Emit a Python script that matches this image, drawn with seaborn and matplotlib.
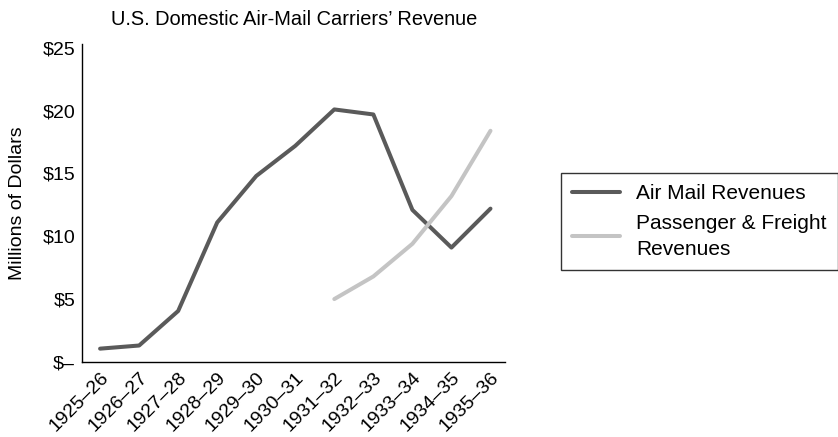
import matplotlib
matplotlib.use("Agg")
import matplotlib.pyplot as plt
import seaborn as sns
import pandas as pd
import numpy as np

years = ["1925–26", "1926–27", "1927–28", "1928–29", "1929–30", "1930–31",
         "1931–32", "1932–33", "1933–34", "1934–35", "1935–36"]
air_mail = [1.05, 1.3, 4.05, 11.1, 14.8, 17.2, 20.1, 19.7, 12.1, 9.1, 12.2]
passenger = [np.nan, np.nan, np.nan, np.nan, np.nan, np.nan, 5.0, 6.8, 9.4, 13.2, 18.4]
yticks = [0, 5, 10, 15, 20, 25]
ytick_labels = ["$–", "$5", "$10", "$15", "$20", "$25"]

sns.set_theme(style="white")
plt.rcParams["font.family"] = ["Liberation Sans", "DejaVu Sans"]
plt.rcParams["text.color"] = "black"
plt.rcParams["xtick.color"] = "black"
plt.rcParams["ytick.color"] = "black"
plt.rcParams["axes.labelcolor"] = "black"

df = pd.DataFrame({
    "x": list(range(len(years))) * 2,
    "value": air_mail + passenger,
    "series": ["Air Mail Revenues"] * len(years) + ["Passenger & Freight\nRevenues"] * len(years),
})

fig = plt.figure(figsize=(8.38, 4.37), dpi=100)
ax = fig.add_axes([0.098, 0.172, 0.505, 0.727])
sns.lineplot(data=df, x="x", y="value", hue="series",
             palette=["#5a5a5a", "#c4c4c4"], linewidth=2.9, ax=ax, legend=True)

ax.set_xlim(-0.46, 10.38)
ax.set_ylim(0, 25.3)
ax.set_xticks(range(len(years)))
ax.set_xticklabels(years, rotation=45, ha="right", rotation_mode="anchor", fontsize=14)
ax.set_yticks(yticks)
ax.set_yticklabels(ytick_labels, fontsize=14)
ax.tick_params(axis="both", length=0, pad=5)
ax.set_xlabel("")
ax.set_ylabel("Millions of Dollars", fontsize=14, labelpad=12)
ax.set_title("U.S. Domestic Air-Mail Carriers’ Revenue", fontsize=14.4, pad=14)
for s in ["top", "right"]:
    ax.spines[s].set_visible(False)
for s in ["left", "bottom"]:
    ax.spines[s].set_color("black")
    ax.spines[s].set_linewidth(1.0)

h, l = ax.get_legend_handles_labels()
ax.get_legend().remove()
leg = fig.legend(h, l, loc="upper left", bbox_to_anchor=(561 / 838, 1 - 173 / 437),
                 bbox_transform=fig.transFigure, frameon=True, fancybox=False,
                 fontsize=15, handlelength=2.3, handletextpad=0.75,
                 borderpad=0.55, labelspacing=0.5, borderaxespad=0)
leg.get_frame().set_edgecolor("black")
leg.get_frame().set_linewidth(1.0)
for t in leg.get_texts():
    t.set_linespacing(1.45)

fig.savefig("out.png", dpi=100)
